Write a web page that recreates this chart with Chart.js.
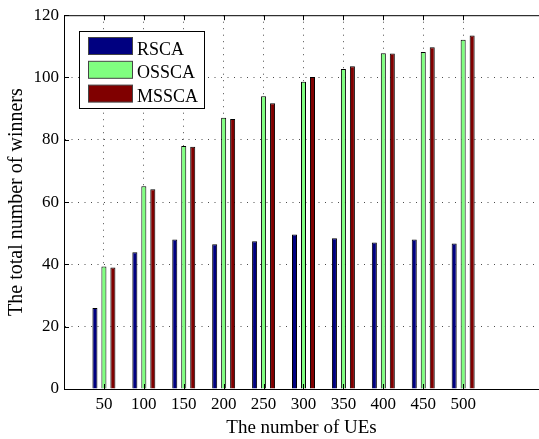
<!DOCTYPE html>
<html>
<head>
<meta charset="utf-8">
<script src="https://cdn.jsdelivr.net/npm/chart.js@4.4.0/dist/chart.umd.min.js"></script>
<style>
  html, body { margin: 0; padding: 0; background: #fff; overflow: hidden; }
  #wrap { width: 539px; height: 439px; }
</style>
</head>
<body>
<div id="wrap"><canvas id="winnersChart" width="539" height="439"></canvas></div>
<script>
// data
const ueCounts = ['50', '100', '150', '200', '250', '300', '350', '400', '450', '500'];
const rscaWinners = [26.0, 43.9, 48.0, 46.5, 47.4, 49.6, 48.4, 47.0, 48.0, 46.7];
const osscaWinners = [39.3, 65.1, 78.0, 87.1, 94.0, 98.6, 102.7, 107.8, 108.2, 112.1];
const msscaWinners = [39.0, 64.1, 77.8, 86.7, 91.7, 100.2, 103.6, 107.7, 109.7, 113.5];
const seriesNames = ['RSCA', 'OSSCA', 'MSSCA'];
const yMin = 0, yMax = 120, yStep = 20;

const serif = 'Liberation Serif, Times New Roman, serif';
const dotColor = 'rgba(0, 0, 0, 0.7)';

const toPoints = (vals) => vals.map((v, i) => ({ x: i + 1, y: v }));

// matlab style frame: top line + inward tick marks
const matlabFrame = {
    id: 'matlabFrame',
    afterDraw(chart) {
        const { ctx, chartArea: a, scales } = chart;
        ctx.save();
        ctx.strokeStyle = '#000';
        ctx.lineWidth = 1;
        ctx.beginPath();
        ctx.moveTo(a.left, a.top + 0.5);
        ctx.lineTo(a.right, a.top + 0.5);
        scales.x.ticks.forEach(t => {
            const px = Math.round(scales.x.getPixelForValue(t.value)) + 0.5;
            ctx.moveTo(px, a.top);
            ctx.lineTo(px, a.top + 5);
            ctx.moveTo(px, a.bottom);
            ctx.lineTo(px, a.bottom - 5);
        });
        scales.y.ticks.forEach(t => {
            const py = Math.round(scales.y.getPixelForValue(t.value)) + 0.5;
            ctx.moveTo(a.left, py);
            ctx.lineTo(a.left + 5, py);
        });
        ctx.stroke();
        ctx.restore();
    }
};

// boxed legend in the upper left corner
const boxLegend = {
    id: 'boxLegend',
    afterDraw(chart) {
        const ctx = chart.ctx;
        ctx.save();
        ctx.fillStyle = '#fff';
        ctx.fillRect(79.5, 31.5, 125, 77);
        ctx.strokeStyle = '#000';
        ctx.lineWidth = 1;
        ctx.strokeRect(79.5, 31.5, 125, 77);
        ctx.font = '18px ' + serif;
        ctx.textBaseline = 'alphabetic';
        chart.data.datasets.forEach((ds, i) => {
            const top = 37.5 + i * 23.8;
            ctx.fillStyle = ds.backgroundColor;
            ctx.fillRect(88.5, top, 44, 17);
            ctx.strokeStyle = '#444';
            ctx.strokeRect(88.5, top, 44, 17);
            ctx.fillStyle = '#000';
            ctx.fillText(ds.label, 137, top + 17);
        });
        ctx.restore();
    }
};

const ctx = document.getElementById('winnersChart');
new Chart(ctx, {
    type: 'bar',
    data: {
        datasets: [
            { label: seriesNames[0], data: toPoints(rscaWinners), backgroundColor: '#000080' },
            { label: seriesNames[1], data: toPoints(osscaWinners), backgroundColor: '#80ff80' },
            { label: seriesNames[2], data: toPoints(msscaWinners), backgroundColor: '#800000' }
        ]
    },
    options: {
        responsive: false,
        animation: false,
        layout: { padding: { top: 14, right: 0, bottom: 0, left: 0 } },
        datasets: {
            bar: {
                categoryPercentage: 0.675,
                barPercentage: 0.56,
                borderColor: '#000',
                borderWidth: 1
            }
        },
        plugins: {
            legend: { display: false },
            tooltip: { enabled: false }
        },
        scales: {
            x: {
                type: 'linear',
                min: 0,
                max: 11.9,
                bounds: 'data',
                offset: false,
                afterBuildTicks: (scale) => {
                    scale.ticks = ueCounts.map((c, i) => ({ value: i + 1 }));
                },
                afterFit: (scale) => { scale.height = 50; },
                ticks: {
                    callback: (v) => ueCounts[v - 1] || '',
                    color: '#000',
                    font: { family: serif, size: 17 },
                    padding: 5,
                    maxRotation: 0,
                    autoSkip: false
                },
                grid: { offset: false, color: dotColor, lineWidth: 1, drawTicks: false },
                border: { display: true, color: '#000', width: 1, dash: [1, 5.5] },
                title: {
                    display: true,
                    text: 'The number of UEs',
                    color: '#000',
                    font: { family: serif, size: 19 },
                    padding: { top: 0, bottom: 0 }
                }
            },
            y: {
                min: yMin,
                max: yMax,
                afterFit: (scale) => { scale.width = 64; },
                ticks: {
                    stepSize: yStep,
                    color: '#000',
                    font: { family: serif, size: 17 },
                    padding: 5
                },
                grid: {
                    color: (c) => (c.tick && (c.tick.value === yMin || c.tick.value === yMax)) ? 'rgba(0,0,0,0)' : dotColor,
                    lineWidth: 1,
                    drawTicks: false
                },
                border: { display: true, color: '#000', width: 1, dash: [1, 5.5] },
                title: {
                    display: true,
                    text: 'The total number of winners',
                    color: '#000',
                    font: { family: serif, size: 20 },
                    padding: { top: 5, bottom: 0 }
                }
            }
        }
    },
    plugins: [matlabFrame, boxLegend]
});
</script>
</body>
</html>
